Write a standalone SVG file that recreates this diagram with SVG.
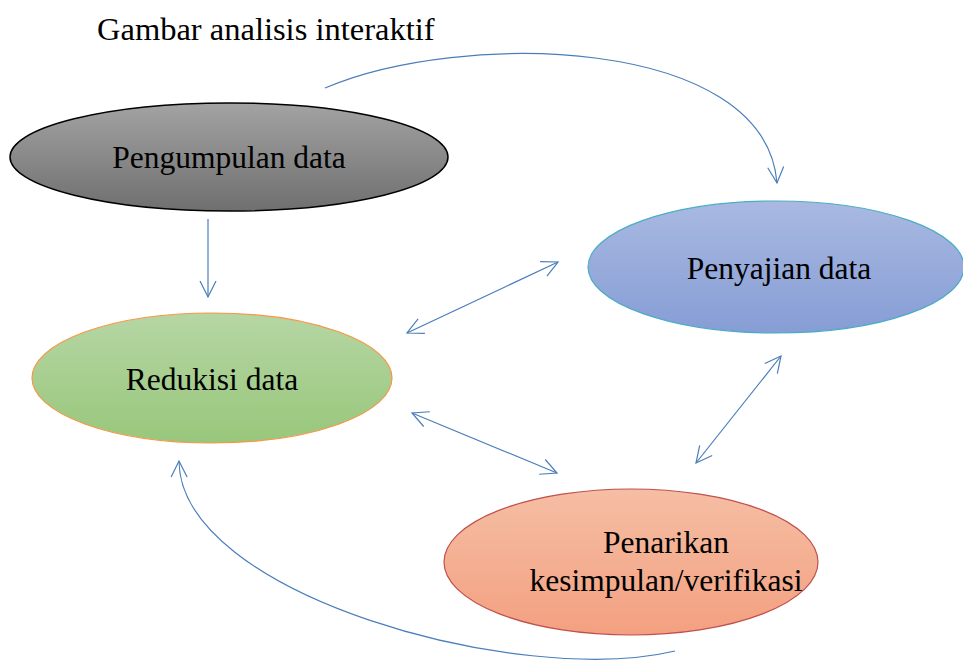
<svg xmlns="http://www.w3.org/2000/svg" width="963" height="660" viewBox="0 0 963 660">
<defs>
<linearGradient id="gGrey" x1="0" y1="0" x2="0" y2="1"><stop offset="0" stop-color="#a3a3a3"/><stop offset="1" stop-color="#6f6f6f"/></linearGradient>
<linearGradient id="gBlue" x1="0" y1="0" x2="0" y2="1"><stop offset="0" stop-color="#a9b9e1"/><stop offset="1" stop-color="#869dd5"/></linearGradient>
<linearGradient id="gGreen" x1="0" y1="0" x2="0" y2="1"><stop offset="0" stop-color="#b6d6a4"/><stop offset="1" stop-color="#98c77b"/></linearGradient>
<linearGradient id="gRed" x1="0" y1="0" x2="0" y2="1"><stop offset="0" stop-color="#f5bea4"/><stop offset="1" stop-color="#f3a080"/></linearGradient>
<marker id="arr" viewBox="0 0 20 20" refX="18" refY="10" markerWidth="20" markerHeight="20" markerUnits="userSpaceOnUse" orient="auto-start-reverse">
<path d="M2,2 L18,10 L2,18" fill="none" stroke="#4a7ebb" stroke-width="1.2"/>
</marker>
<style>
text{font-family:'Liberation Serif','Times New Roman',serif;font-size:31.5px;fill:#000}
.t{text-anchor:middle}
.ti{font-size:32.5px}
.c{fill:none;stroke:#4a7ebb;stroke-width:1.2}
</style>
</defs>
<rect width="963" height="660" fill="#fff"/>
<text class="ti" x="97" y="40">Gambar analisis interaktif</text>
<g id="pengumpulan">
<ellipse cx="229" cy="157" rx="219" ry="54" fill="url(#gGrey)" stroke="#000" stroke-width="1.5"/>
<text class="t" x="229" y="168">Pengumpulan data</text>
</g>
<g id="penyajian">
<ellipse cx="776" cy="267" rx="188" ry="66" fill="url(#gBlue)" stroke="#4bacc6" stroke-width="1.2"/>
<text class="t" x="779" y="279">Penyajian data</text>
</g>
<g id="redukisi">
<ellipse cx="212" cy="378" rx="180" ry="65" fill="url(#gGreen)" stroke="#f79646" stroke-width="1.2"/>
<text class="t" x="212" y="390">Redukisi data</text>
</g>
<g id="penarikan">
<ellipse cx="631" cy="562" rx="187" ry="73" fill="url(#gRed)" stroke="#c0504d" stroke-width="1.2"/>
<text class="t" x="666" y="553">Penarikan</text>
<text class="t" x="666" y="591">kesimpulan/verifikasi</text>
</g>
<g id="connectors">
<path class="c" d="M325,88 C460,30 765,35 777,183" marker-end="url(#arr)"/>
<path class="c" d="M208,219 L208,297" marker-end="url(#arr)"/>
<path class="c" d="M407,333 L558,262" marker-start="url(#arr)" marker-end="url(#arr)"/>
<path class="c" d="M412,413 L557,473" marker-start="url(#arr)" marker-end="url(#arr)"/>
<path class="c" d="M781,356 L696,463" marker-start="url(#arr)" marker-end="url(#arr)"/>
<path class="c" d="M675,651 C520,688 180,595 179,461" marker-end="url(#arr)"/>
</g>
</svg>
